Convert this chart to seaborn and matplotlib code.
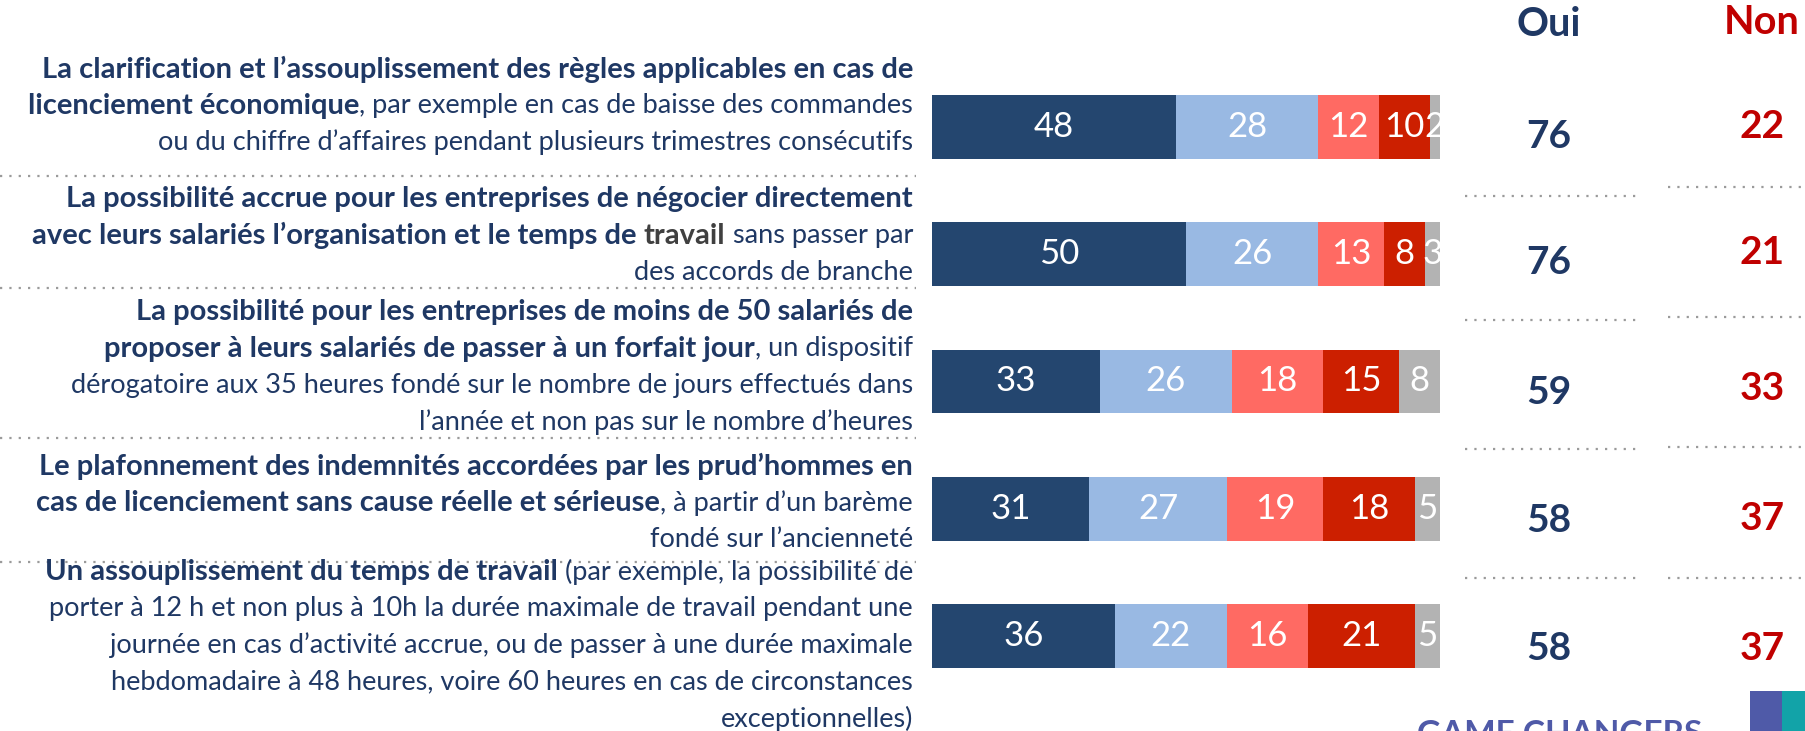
import pandas as pd
import seaborn as sns
import matplotlib.pyplot as plt
from matplotlib.lines import Line2D
from matplotlib.patches import Rectangle

# Données
items = ["r1", "r2", "r3", "r4", "r5"]
tout_a_fait = [48, 50, 33, 31, 36]
plutot_oui = [28, 26, 26, 27, 22]
plutot_non = [12, 13, 18, 19, 16]
pas_du_tout = [10, 8, 15, 18, 21]
nsp = [2, 3, 8, 5, 5]
oui = [76, 76, 59, 58, 58]
non = [22, 21, 33, 37, 37]

# Libellés (texte, style) : b = gras, r = normal, g = gras gris
libelles = [
    [[("La clarification et l’assouplissement des règles applicables en cas de", "b")],
     [("licenciement économique", "b"), (", par exemple en cas de baisse des commandes", "r")],
     [("ou du chiffre d’affaires pendant plusieurs trimestres consécutifs", "r")]],
    [[("La possibilité accrue pour les entreprises de négocier directement", "b")],
     [("avec leurs salariés l’organisation et le temps de", "b"), (" travail", "g"), (" sans passer par", "r")],
     [("des accords de branche", "r")]],
    [[("La possibilité pour les entreprises de moins de 50 salariés de", "b")],
     [("proposer à leurs salariés de passer à un forfait jour", "b"), (", un dispositif", "r")],
     [("dérogatoire aux 35 heures fondé sur le nombre de jours effectués dans", "r")],
     [("l’année et non pas sur le nombre d’heures", "r")]],
    [[("Le plafonnement des indemnités accordées par les prud’hommes en", "b")],
     [("cas de licenciement sans cause réelle et sérieuse", "b"), (", à partir d’un barème", "r")],
     [("fondé sur l’ancienneté", "r")]],
    [[("Un assouplissement du temps de travail", "b"), (" (par exemple, la possibilité de", "r")],
     [("porter à 12 h et non plus à 10h la durée maximale de travail pendant une", "r")],
     [("journée en cas d’activité accrue, ou de passer à une durée maximale", "r")],
     [("hebdomadaire à 48 heures, voire 60 heures en cas de circonstances", "r")],
     [("exceptionnelles)", "r")]],
]

couleurs = ["#24466f", "#99b9e3", "#ff6a63", "#cc1f00", "#b3b3b3"]
navy = "#1f3864"
rouge = "#c00000"

W, H = 1806, 731
sns.set_style("white")
plt.rcParams['font.family'] = ['Lato', 'DejaVu Sans']

fig = plt.figure(figsize=(W / 100, H / 100), dpi=100)
fig.patch.set_facecolor("white")

# calque en pixels pour le texte et les pointillés
ov = fig.add_axes([0, 0, 1, 1])
ov.set_xlim(0, W)
ov.set_ylim(H, 0)
ov.axis("off")

# barres empilées
ax = fig.add_axes([932 / W, 1 - 700 / H, 508 / W, 637 / H])
series = [tout_a_fait, plutot_oui, plutot_non, pas_du_tout, nsp]
df = pd.DataFrame({"item": items})
cum = [0] * len(items)
starts = []
for k, s in enumerate(series):
    starts.append(list(cum))
    cum = [c + v for c, v in zip(cum, s)]
    df["c%d" % k] = cum
for k in reversed(range(len(series))):
    sns.barplot(data=df, x="c%d" % k, y="item", color=couleurs[k], saturation=1,
                orient="h", width=0.5, errorbar=None, linewidth=0, ax=ax)
for k, s in enumerate(series):
    for i, v in enumerate(s):
        ax.text(starts[k][i] + v / 2, i, str(v), color="white", fontsize=25,
                ha="center", va="center")
ax.set_xlim(0, 100)
ax.set_ylim(4.5, -0.5)
ax.axis("off")

# libellés à gauche, alignés à droite
renderer = fig.canvas.get_renderer()
taille = {"b": 21, "r": 19.5, "g": 21}
styles = {"b": dict(fontweight="bold", color=navy),
          "r": dict(fontweight="normal", color=navy),
          "g": dict(fontweight="bold", color="#404040")}
t1 = ov.text(0, -100, "xx", fontsize=19.5)
t2 = ov.text(0, -100, "x x", fontsize=19.5)
espace = t2.get_window_extent(renderer).width - t1.get_window_extent(renderer).width
t1.remove()
t2.remove()

premiere = [69, 199, 312, 466, 572]
pas = 36.7
x_droite = 913
for it, lignes in enumerate(libelles):
    for j, segs in enumerate(lignes):
        y = premiere[it] + j * pas
        x = x_droite
        for txt, st in reversed(segs):
            gap = espace if txt.startswith(" ") else 0
            t = ov.text(x, y, txt.strip(), fontsize=taille[st], ha="right", va="center",
                        **styles[st])
            x -= t.get_window_extent(renderer).width + gap

# séparateurs en pointillés
pointille = dict(color="#9a9a9a", lw=1.6, linestyle=(0, (1, 3.2)))
for y in [176, 288, 438, 562]:
    ov.add_line(Line2D([0, 916], [y, y], **pointille))
for y in [196, 320, 449, 578]:
    ov.add_line(Line2D([1465, 1636], [y, y], **pointille))
for y in [187, 317, 447, 578]:
    ov.add_line(Line2D([1668, 1806], [y, y], **pointille))

# colonnes Oui / Non
ov.text(1549, 25, "Oui", fontsize=28.5, fontweight="bold", color=navy, ha="center", va="center")
ov.text(1762, 23, "Non", fontsize=28.5, fontweight="bold", color=rouge, ha="center", va="center")
oui_y = [136, 263, 392, 521, 648]
non_y = [127, 253, 388, 518, 648]
for i in range(len(items)):
    ov.text(1549, oui_y[i], str(oui[i]), fontsize=28, fontweight="bold", color=navy,
            ha="center", va="center")
    ov.text(1762, non_y[i], str(non[i]), fontsize=28, fontweight="bold", color=rouge,
            ha="center", va="center")

# pied de page
ov.text(1417, 720, "GAME CHANGERS", fontsize=24, fontweight="bold", color="#4f5aa8",
        ha="left", va="top")
ov.add_patch(Rectangle((1750, 691), 32, 45, color="#4f5aa8", lw=0))
ov.add_patch(Rectangle((1782, 691), 30, 45, color="#12a3a8", lw=0))

fig.savefig("out.png", dpi=100)
